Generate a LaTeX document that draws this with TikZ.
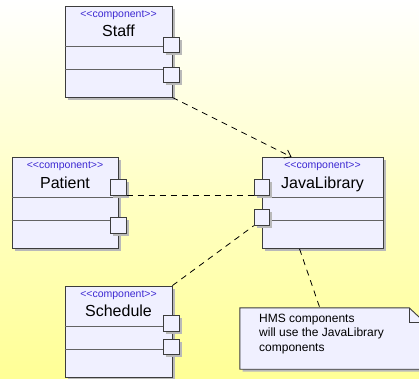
\documentclass[tikz,border=0pt]{standalone}
\usepackage{fontspec}
\setmainfont{Liberation Sans}
\usetikzlibrary{calc,arrows.meta}

\definecolor{bgyellow}{RGB}{255,255,150}
\definecolor{boxfill}{RGB}{240,240,255}
\definecolor{boxline}{RGB}{60,60,60}
\definecolor{stereo}{RGB}{60,40,210}
\definecolor{shadowgray}{RGB}{185,185,185}

\tikzset{
  compbox/.style={draw=boxline, fill=boxfill, line width=0.9pt, inner sep=0pt,
    minimum width=107pt, minimum height=91pt},
  portbox/.style={draw=boxline, fill=boxfill, line width=0.9pt, inner sep=0pt,
    minimum width=15.5pt, minimum height=15.5pt},
  boxshadow/.style={fill=shadowgray},
  divider/.style={draw=boxline!80, line width=0.8pt},
  stereotext/.style={text=stereo, font=\fontsize{10.5}{12}\selectfont, inner sep=0pt},
  nametext/.style={font=\fontsize{16}{19}\selectfont, inner sep=0pt},
  dep/.style={draw=black, line width=0.8pt, dash pattern=on 6pt off 5pt}
}

% a component with its shadow and two compartments below the name
\newcommand{\umlcomponent}[5]{% name, centre x, centre y, width, label
  \fill[boxshadow] ($(#2,#3)+(-#4/2+2.5,-45.5+2.5)$) rectangle ($(#2,#3)+(#4/2+2.5,45.5+2.5)$);
  \node[compbox, minimum width=#4 pt] (#1) at (#2,#3) {};
  \draw[divider] ($(#1.north west)+(0,40.5)$) -- ($(#1.north east)+(0,40.5)$);
  \draw[divider] ($(#1.north west)+(0,63.5)$) -- ($(#1.north east)+(0,63.5)$);
  \node[stereotext] (#1st) at ($(#1.north)+(0,9.5)$) {{<}{<}component{>}{>}};
  \node[nametext, anchor=base] (#1nm) at ($(#1.north)+(0,31)$) {#5};
}
% a port square with its shadow
\newcommand{\umlport}[3]{% name, centre x, centre y
  \fill[boxshadow] ($(#2,#3)+(-7.75+2.5,-7.75+2.5)$) rectangle ($(#2,#3)+(7.75+2.5,7.75+2.5)$);
  \node[portbox] (#1) at (#2,#3) {};
}

\begin{document}
\begin{tikzpicture}[x=1pt,y=-1pt]
  % background
  \shade[top color=white, bottom color=bgyellow, middle color=white!45!bgyellow]
    (0,0) rectangle (419,378);
  \useasboundingbox (0,0) rectangle (419,378);

  % components
  \umlcomponent{staff}{118.5}{51.5}{107}{Staff}
  \umlcomponent{patient}{65}{203}{106}{Patient}
  \umlcomponent{java}{322.5}{203}{121}{JavaLibrary}
  \umlcomponent{schedule}{118.5}{331.5}{107}{Schedule}

  % note with folded corner
  \fill[boxshadow] (242.5,310.5) -- (411.5,310.5) -- (426.5,325.5) -- (426.5,371.5) -- (242.5,371.5) -- cycle;
  \node[inner sep=0pt, minimum width=185pt, minimum height=61pt] (note) at (332.5,338.5) {};
  \draw[boxline, fill=boxfill, line width=0.9pt]
    (note.north west) -- ($(note.north east)+(-16,0)$) -- ($(note.north east)+(0,15)$)
    -- (note.south east) -- (note.south west) -- cycle;
  \draw[boxline, line width=0.8pt]
    ($(note.north east)+(-16,0)$) -- ($(note.north east)+(-16,15)$) -- ($(note.north east)+(0,15)$);
  \node[anchor=north west, align=left, inner sep=0pt,
        font=\fontsize{12}{14.7}\selectfont] (notetext) at (259,313.5)
    {HMS components\\will use the JavaLibrary\\components};

  % dependencies
  \draw[dep, -{Straight Barb[length=6pt, width=9pt]}]
    (staff.south east) -- ($(java.north west)+(30,0)$);
  \draw[dep] ($(java.south west)+(38,0)$) -- ($(note.north west)+(80,0)$);

  % ports
  \umlport{sp1}{171.25}{44.75}
  \umlport{sp2}{171.25}{74.75}
  \umlport{pp1}{118.5}{187.5}
  \umlport{pp2}{118.5}{225.5}
  \umlport{jp1}{262}{187.5}
  \umlport{jp2}{262}{217.5}
  \umlport{cp1}{171.25}{323.5}
  \umlport{cp2}{171.25}{347}

  \draw[dep] (pp1.south east) -- (jp1.south west);
  \draw[dep] (schedule.north east) -- (jp2.south west);
\end{tikzpicture}
\end{document}
